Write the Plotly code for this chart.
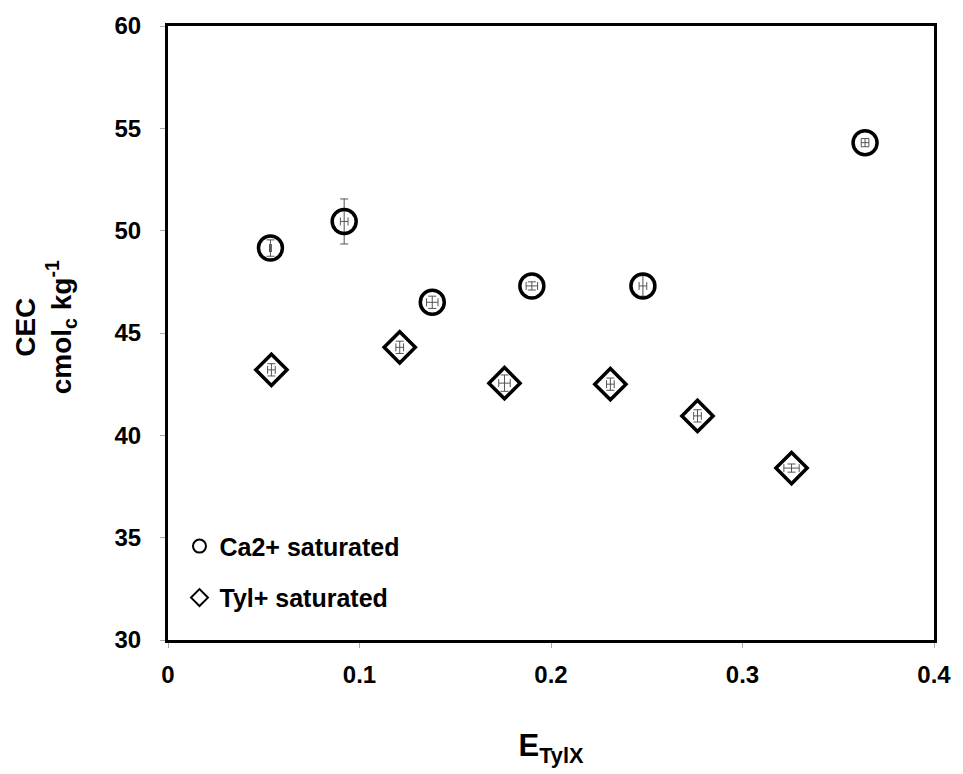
import plotly.graph_objects as go

# Ca2+ saturated
ca_x = [0.0535, 0.092, 0.138, 0.190, 0.248, 0.364]
ca_y = [49.15, 50.45, 46.5, 47.3, 47.3, 54.3]
ca_ex = [0.0005, 0.002, 0.003, 0.003, 0.002, 0.002]
ca_ey = [0.4, 1.1, 0.3, 0.2, 0.5, 0.2]

# Tyl+ saturated
ty_x = [0.054, 0.121, 0.1757, 0.231, 0.2765, 0.3256]
ty_y = [43.2, 44.3, 42.55, 42.5, 40.95, 38.4]
ty_ex = [0.002, 0.002, 0.003, 0.002, 0.002, 0.004]
ty_ey = [0.3, 0.3, 0.4, 0.3, 0.3, 0.2]

x_ticks = [0, 0.1, 0.2, 0.3, 0.4]
x_labels = ["0", "0.1", "0.2", "0.3", "0.4"]
y_ticks = [30, 35, 40, 45, 50, 55, 60]

FONT = "Liberation Sans, Arial, sans-serif"
ebar = dict(color="#555555", thickness=1, width=4)

fig = go.Figure()
fig.add_trace(go.Scatter(
    x=ca_x, y=ca_y, mode="markers", showlegend=False,
    marker=dict(symbol="circle-open", size=24, color="black", line=dict(width=3.5, color="black")),
    error_x=dict(type="data", array=ca_ex, **ebar),
    error_y=dict(type="data", array=ca_ey, **ebar),
))
fig.add_trace(go.Scatter(
    x=ty_x, y=ty_y, mode="markers", showlegend=False,
    marker=dict(symbol="diamond-open", size=24, color="black", line=dict(width=3.5, color="black")),
    error_x=dict(type="data", array=ty_ex, **ebar),
    error_y=dict(type="data", array=ty_ey, **ebar),
))
# legend entries
fig.add_trace(go.Scatter(
    x=[None], y=[None], mode="markers", name="Ca2+ saturated", legendgroup="a",
    marker=dict(symbol="circle-open", size=13, color="black", line=dict(width=2, color="black")),
))
fig.add_trace(go.Scatter(
    x=[None], y=[None], mode="markers", name="Tyl+ saturated", legendgroup="b",
    marker=dict(symbol="diamond-open", size=13, color="black", line=dict(width=2, color="black")),
))

fig.update_layout(
    width=963, height=774,
    margin=dict(l=168, r=21, t=24, b=134),
    paper_bgcolor="white", plot_bgcolor="white",
    font=dict(family=FONT, color="black", size=24, weight="bold"),
    showlegend=True,
    legend=dict(x=0.015, y=0.19, xanchor="left", yanchor="top",
                bgcolor="rgba(0,0,0,0)", tracegroupgap=16, itemwidth=30,
                font=dict(size=25, family=FONT, weight="bold")),
    xaxis=dict(range=[0, 0.4], tickvals=x_ticks, ticktext=x_labels,
               showgrid=False, zeroline=False, showline=True, linecolor="black", linewidth=3,
               mirror=True, ticks="outside", ticklen=5, tickcolor="#aaaaaa", tickwidth=1,
               ticklabelstandoff=6,
               tickfont=dict(size=24, family=FONT, weight="bold"),
               title=dict(text="E<sub>TylX</sub>", font=dict(size=31, family=FONT, weight="bold"), standoff=48)),
    yaxis=dict(range=[30, 60], tickvals=y_ticks,
               showgrid=False, zeroline=False, showline=True, linecolor="black", linewidth=3,
               mirror=True, ticks="outside", ticklen=5, tickcolor="#aaaaaa", tickwidth=1,
               ticklabelstandoff=14,
               tickfont=dict(size=24, family=FONT, weight="bold")),
    annotations=[dict(
        text="CEC<br>cmol<sub>c</sub> kg<sup>-1</sup>", textangle=-90,
        xref="paper", yref="paper", x=-0.16, y=0.51, xanchor="center", yanchor="middle",
        showarrow=False, font=dict(size=28, family=FONT, weight="bold"),
    )],
)

fig.write_html("out.html")
